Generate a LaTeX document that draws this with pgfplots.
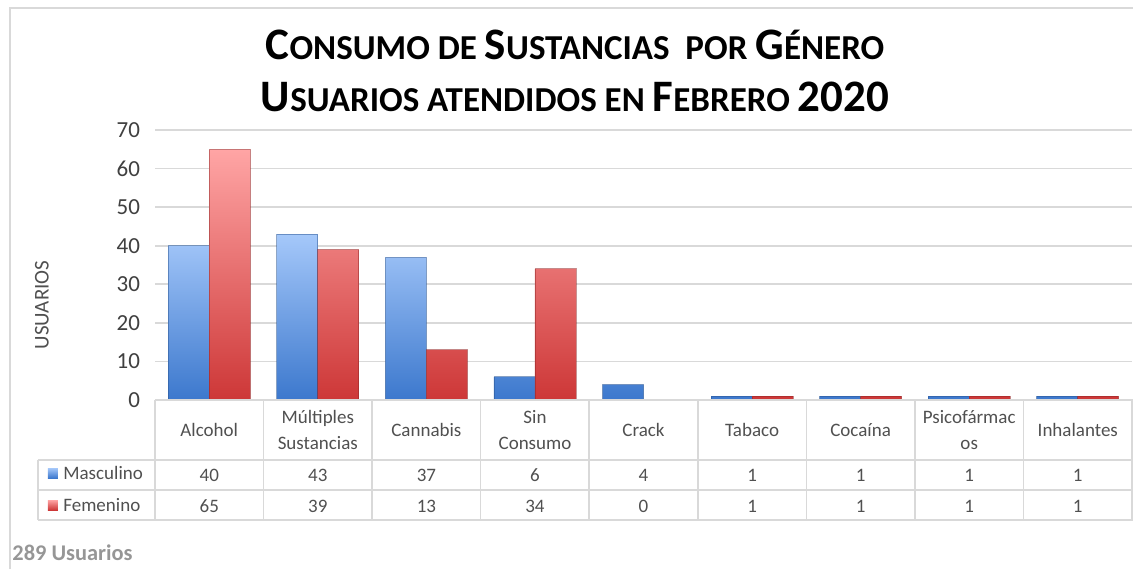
\documentclass[border=0pt]{standalone}
\usepackage{pgfplots}
\pgfplotsset{compat=1.18}
\usepackage{fontspec}
\setmainfont{Carlito}
\definecolor{gridc}{RGB}{217,217,217}
\definecolor{tickc}{RGB}{64,64,64}
\definecolor{txtc}{RGB}{80,80,80}
\definecolor{blueTop}{RGB}{165,200,250}
\definecolor{blueBot}{RGB}{60,120,205}
\definecolor{redTop}{RGB}{255,165,165}
\definecolor{redBot}{RGB}{205,55,55}
% fake small caps: big initial, smaller rest
\newcommand\SC[2]{{\fontsize{22.5}{27}\selectfont #1}{\fontsize{17.5}{27}\selectfont #2}}
\begin{document}
\begin{tikzpicture}
\begin{axis}[
  at={(0,0)}, anchor=south west,
  scale only axis, width=488.5pt, height=135pt,
  xmin=-0.5, xmax=8.5, ymin=0, ymax=70,
  ytick={0,10,...,70}, xtick=\empty,
  axis line style={draw=none}, major tick length=0pt,
  ymajorgrids, grid style={gridc, line width=0.8pt},
  /pgf/number format/assume math mode=true,
  y tick label style={font=\fontsize{11.5}{13}\selectfont, text=tickc, xshift=-4pt},
  ybar=0pt, bar width=20.5pt,
  clip=false,
]
% Masculino
\addplot[draw=blueBot!70!black, draw opacity=0.5, line width=0.4pt, top color=blueTop, bottom color=blueBot]
  coordinates {(0,40)(1,43)(2,37)(3,6)(4,4)(5,1)(6,1)(7,1)(8,1)};
% Femenino
\addplot[draw=redBot!70!black, draw opacity=0.5, line width=0.4pt, top color=redTop, bottom color=redBot]
  coordinates {(0,65)(1,39)(2,13)(3,34)(4,0)(5,1)(6,1)(7,1)(8,1)};
\end{axis}

% everything else in pixel units of the reference
\begin{scope}[x=0.5pt, y=-0.5pt, shift={(-77.5pt,200pt)}]
  % outer frame
  \draw[gridc, line width=0.8pt] (10,569) -- (10,8) -- (1133,8);
  % title
  \node[font=\bfseries\fontsize{17.5}{27}\selectfont] at (575,45) {\SC{C}{ONSUMO DE} \SC{S}{USTANCIAS}\ \ \SC{}{POR} \SC{G}{ÉNERO}};
  \node[font=\bfseries\fontsize{17.5}{27}\selectfont] at (575,97) {\SC{U}{SUARIOS ATENDIDOS EN} \SC{F}{EBRERO} {\fontsize{22.5}{27}\selectfont 2020}};
  % y label
  \node[rotate=90, text=txtc, font=\fontsize{10.5}{12}\selectfont] at (42,305) {USUARIOS};
  % data table
  \draw[gridc, line width=0.8pt] (155,400) -- (1133,400);
  \foreach \yy in {460,490,520} \draw[gridc, line width=0.8pt] (38,\yy) -- (1133,\yy);
  \draw[gridc, line width=0.8pt] (38,460) -- (38,520);
  \foreach \i in {0,...,9} \draw[gridc, line width=0.8pt] ({155+\i*108.56},400) -- ({155+\i*108.56},520);
  \begin{scope}[every node/.style={text=txtc, font=\fontsize{9.5}{13}\selectfont, align=center}]
    \node at (209.3,430) {Alcohol};
    \node at (317.8,430) {Múltiples\\Sustancias};
    \node at (426.4,430) {Cannabis};
    \node at (535.0,430) {Sin\\Consumo};
    \node at (643.5,430) {Crack};
    \node at (752.1,430) {Tabaco};
    \node at (860.6,430) {Cocaína};
    \node at (969.2,430) {Psicofármac\\os};
    \node at (1077.8,430) {Inhalantes};
    % Masculino row
    \foreach \v [count=\k from 0] in {40,43,37,6,4,1,1,1,1}
      \node at ({209.3+\k*108.56},475) {\v};
    % Femenino row
    \foreach \v [count=\k from 0] in {65,39,13,34,0,1,1,1,1}
      \node at ({209.3+\k*108.56},506) {\v};
    \node[anchor=west, inner sep=0pt] at (63,473) {Masculino};
    \node[anchor=west, inner sep=0pt] at (63,505) {Femenino};
  \end{scope}
  \shade[top color=blueTop, bottom color=blueBot] (48,468) rectangle (58,478);
  \shade[top color=redTop, bottom color=redBot] (48,500) rectangle (58,510);
  % footer
  \node[anchor=west, inner sep=0pt, text={rgb,255:red,150;green,150;blue,150}, font=\bfseries\fontsize{11.2}{13}\selectfont] at (12,553) {289 Usuarios};
\end{scope}
\pgfresetboundingbox
\path (-77.5pt,-84.5pt) rectangle (489pt,200pt);
\end{tikzpicture}
\end{document}
